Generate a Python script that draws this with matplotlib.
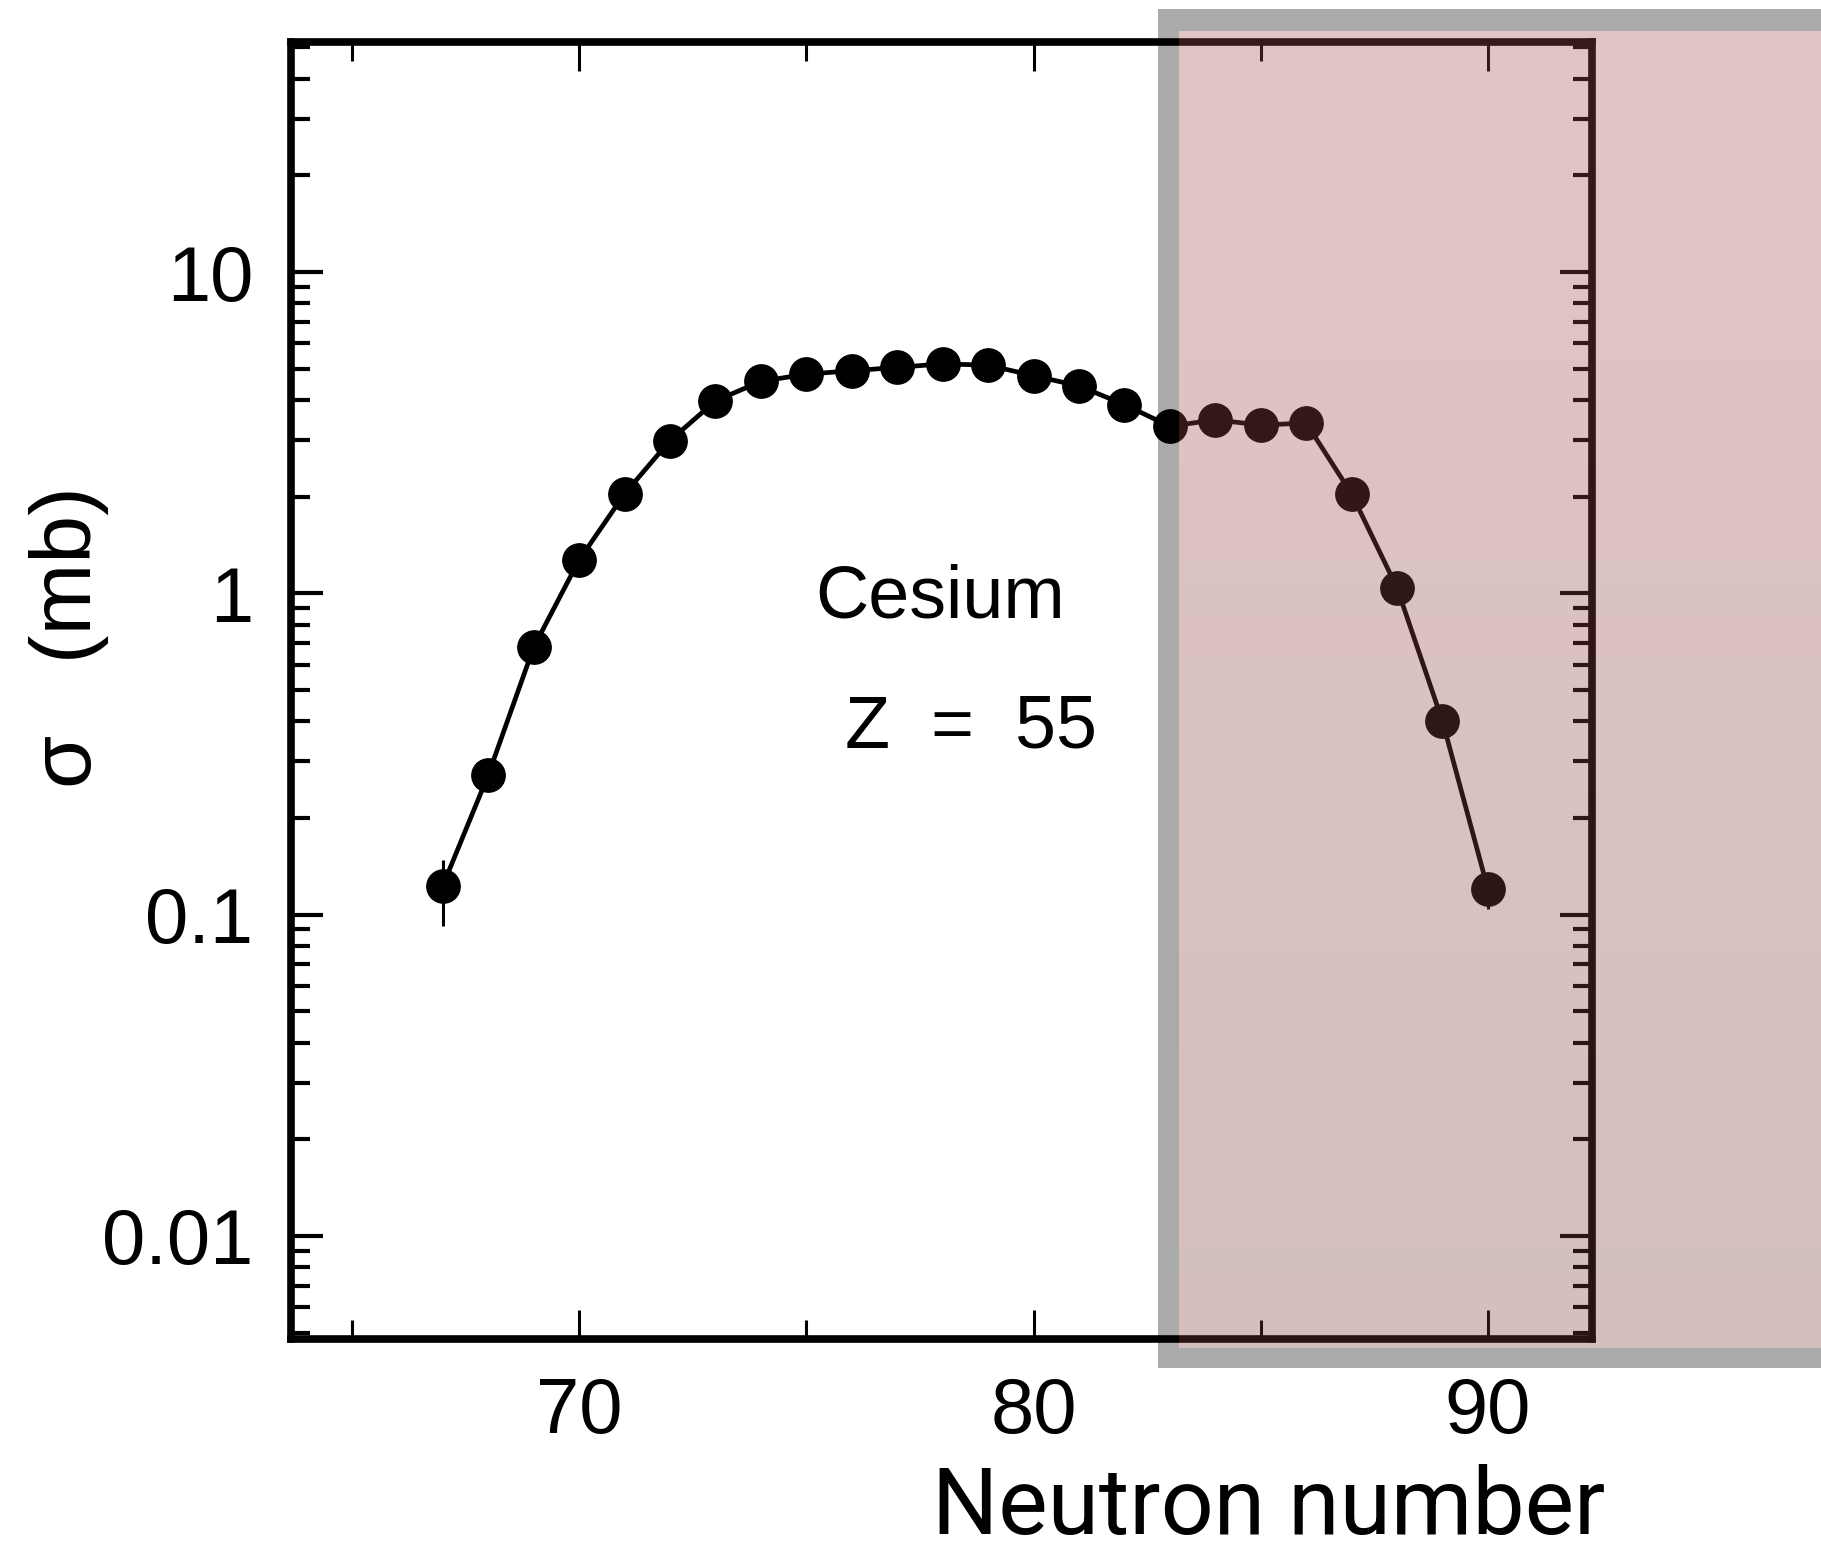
import numpy as np
import matplotlib
matplotlib.use('Agg')
import matplotlib.pyplot as plt
from matplotlib.patches import Rectangle
from matplotlib.ticker import LogLocator, NullFormatter

# Cesium (Z = 55) isotopic cross sections
neutron = [67, 68, 69, 70, 71, 72, 73, 74, 75, 76, 77, 78,
           79, 80, 81, 82, 83, 84, 85, 86, 87, 88, 89, 90]
sigma = [0.123, 0.272, 0.68, 1.27, 2.04, 2.99, 3.97, 4.57, 4.81, 4.93, 5.05, 5.18,
         5.13, 4.76, 4.42, 3.87, 3.31, 3.47, 3.34, 3.39, 2.04, 1.04, 0.40, 0.120]
err_lo = [0.031, 0.03, 0.0, 0.0, 0.0, 0.0, 0.0, 0.0, 0.0, 0.0, 0.0, 0.0,
          0.0, 0.0, 0.0, 0.0, 0.0, 0.0, 0.0, 0.0, 0.0, 0.0, 0.02, 0.016]
err_hi = [0.025, 0.03, 0.0, 0.0, 0.0, 0.0, 0.0, 0.0, 0.0, 0.0, 0.0, 0.0,
          0.0, 0.0, 0.0, 0.0, 0.0, 0.0, 0.0, 0.0, 0.0, 0.0, 0.02, 0.01]

x_major = [70, 80, 90]
x_minor = [65, 75, 85]
y_major = [0.01, 0.1, 1, 10]
y_labels = ['0.01', '0.1', '1', '10']

W, H = 1821, 1553
fig = plt.figure(figsize=(W / 100, H / 100), dpi=100)
fig.patch.set_facecolor('white')

# grey frame behind the plot (ring: grey outer, white inner)
fig.add_artist(Rectangle((1158 / W, 1 - 1368 / H), (W - 1158 + 20) / W, (1368 - 9) / H,
                         transform=fig.transFigure, facecolor='#ababab',
                         edgecolor='none', zorder=-2))
fig.add_artist(Rectangle((1179 / W, 1 - 1348 / H), (W - 1179 + 20) / W, (1348 - 31) / H,
                         transform=fig.transFigure, facecolor='white',
                         edgecolor='none', zorder=-1))

ax = fig.add_axes([291 / W, 1 - 1339 / H, (1592 - 291) / W, (1339 - 42) / H])
ax.set_facecolor('none')

ax.errorbar(neutron, sigma, yerr=[err_lo, err_hi], fmt='-o', color='black',
            ms=24, lw=3.4, elinewidth=2.2, capsize=0)

ax.set_yscale('log')
ax.set_xlim(63.66, 92.29)
ax.set_ylim(0.00478, 52)

ax.set_xticks(x_major)
ax.set_xticks(x_minor, minor=True)
ax.set_yticks(y_major)
ax.set_yticklabels(y_labels)
ax.yaxis.set_minor_locator(LogLocator(base=10, subs=np.arange(2, 10), numticks=20))
ax.yaxis.set_minor_formatter(NullFormatter())

for s in ax.spines.values():
    s.set_linewidth(5.5)

ax.tick_params(which='both', direction='in', top=True, right=True, colors='black')
ax.tick_params(axis='x', which='major', length=21, width=2.2, pad=27)
ax.tick_params(axis='x', which='minor', length=14, width=2.2)
ax.tick_params(axis='y', which='major', length=23, width=3, pad=27)
ax.tick_params(axis='y', which='minor', length=14, width=3)
for lab in ax.get_xticklabels() + ax.get_yticklabels():
    lab.set_fontfamily('Liberation Sans')
    lab.set_fontsize(56)

ax.text(75.2, 0.842, 'Cesium', fontfamily='Liberation Sans', fontsize=53,
        ha='left', va='baseline')
ax.text(75.85, 0.332, 'Z  =  55', fontfamily='Liberation Sans', fontsize=53,
        ha='left', va='baseline')

fig.text(0.038, 0.590, '\u03c3   (mb)', rotation=90, ha='center', va='center',
         fontfamily='Liberation Sans', fontsize=62)
fig.text(932 / W, 0.0, 'Neutron number', ha='left', va='bottom',
         fontfamily='Roboto', fontweight='normal', fontsize=67)

# translucent reddish overlay, slightly darker towards the bottom
n = 256
top_rgb = np.array([165, 81, 78]) / 255.0
bot_rgb = np.array([125, 62, 60]) / 255.0
t = np.linspace(0, 1, n)[:, None]
grad = np.zeros((n, 1, 4))
grad[:, 0, :3] = top_rgb * (1 - t) + bot_rgb * t
grad[:, 0, 3] = 0.333
oax = fig.add_axes([1179 / W, 1 - 1348 / H, (W - 1179) / W, (1348 - 31) / H], zorder=10)
oax.imshow(grad, aspect='auto', interpolation='bilinear')
oax.axis('off')

fig.savefig('out.png', dpi=100, facecolor='white')
